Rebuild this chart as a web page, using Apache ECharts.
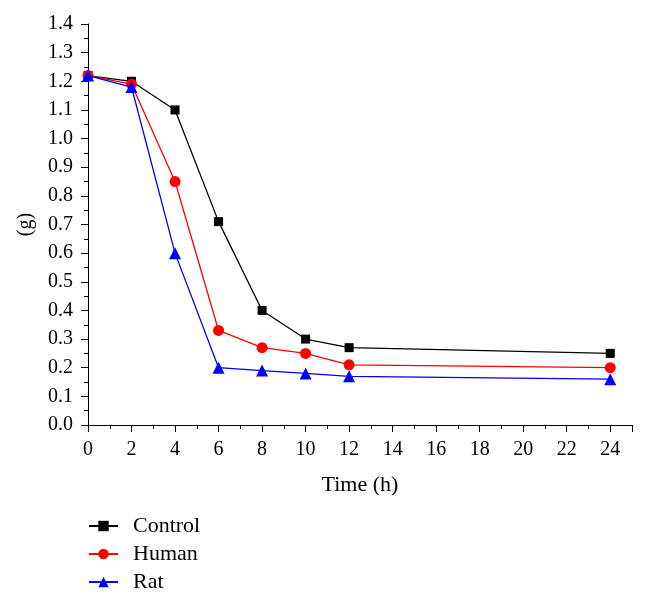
<!DOCTYPE html>
<html><head><meta charset="utf-8">
<script src="https://cdn.jsdelivr.net/npm/echarts@6/dist/echarts.min.js"></script>
<style>html,body{margin:0;padding:0;background:#fff}#c{width:646px;height:601px}</style>
</head><body><div id="c"></div>
<script>
const times = [0, 2, 4, 6, 8, 10, 12, 24];
const control = [1.22, 1.20, 1.10, 0.71, 0.40, 0.30, 0.27, 0.25];
const human = [1.22, 1.19, 0.85, 0.33, 0.27, 0.25, 0.21, 0.20];
const rat = [1.22, 1.18, 0.60, 0.20, 0.19, 0.18, 0.17, 0.16];
const seriesNames = ['Control', 'Human', 'Rat'];
const xTitle = 'Time (h)';
const yTitle = '(g)';

const font = 'Liberation Serif';
const pair = arr => times.map((t, i) => [t, arr[i]]);
const chart = echarts.init(document.getElementById('c'));
const axisCommon = {
  axisLine: {show: true, lineStyle: {color: '#000', width: 1}},
  axisTick: {show: true, inside: false, length: 7, lineStyle: {color: '#000'}},
  minorTick: {show: true, splitNumber: 2, length: 4, lineStyle: {color: '#000'}},
  splitLine: {show: false},
  axisLabel: {color: '#000', fontFamily: font, fontSize: 20},
  nameTextStyle: {color: '#000', fontFamily: font, fontSize: 22}
};
chart.setOption({
  animation: false,
  backgroundColor: '#fff',
  grid: {left: 88, right: 14, top: 24, bottom: 176},
  xAxis: Object.assign({}, axisCommon, {
    type: 'value', min: 0, max: 25, interval: 2,
    name: xTitle, nameLocation: 'middle', nameGap: 49,
    axisLabel: Object.assign({}, axisCommon.axisLabel, {margin: 15, showMaxLabel: false,
      formatter: v => (v > 24 ? '' : String(v))})
  }),
  yAxis: Object.assign({}, axisCommon, {
    type: 'value', min: 0, max: 1.4, interval: 0.1,
    name: yTitle, nameLocation: 'middle', nameGap: 52, nameRotate: 90,
    nameTextStyle: {color: '#000', fontFamily: font, fontSize: 20},
    axisLabel: Object.assign({}, axisCommon.axisLabel, {margin: 15, formatter: v => v.toFixed(1)})
  }),
  legend: {
    orient: 'vertical', left: 88, top: 515, padding: 0, height: 86,
    itemGap: 6, itemWidth: 29, itemHeight: 13,
    textStyle: {color: '#000', fontFamily: font, fontSize: 22, lineHeight: 22, padding: [0, 0, 0, 10]},
    data: seriesNames
  },
  series: [
    {name: seriesNames[0], type: 'line', data: pair(control), symbol: 'rect', symbolSize: 9,
     color: '#000', lineStyle: {width: 1.3, color: '#000'}, itemStyle: {color: '#000'}, z: 3},
    {name: seriesNames[1], type: 'line', data: pair(human), symbol: 'circle', symbolSize: 11,
     color: '#f00', lineStyle: {width: 1.3, color: '#f00'}, itemStyle: {color: '#f00'}, z: 4},
    {name: seriesNames[2], type: 'line', data: pair(rat), symbol: 'triangle', symbolSize: 12,
     color: '#00f', lineStyle: {width: 1.3, color: '#00f'}, itemStyle: {color: '#00f'}, z: 5}
  ]
});
</script></body></html>
